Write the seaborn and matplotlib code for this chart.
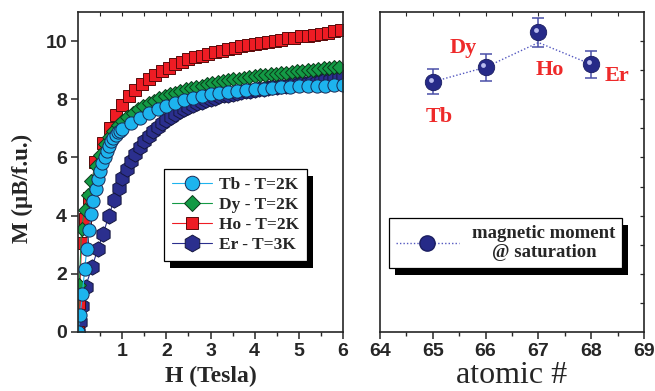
import numpy as np
import pandas as pd
import matplotlib
matplotlib.use("Agg")
import matplotlib.pyplot as plt
import seaborn as sns
from matplotlib.lines import Line2D
from matplotlib.patches import Rectangle
from matplotlib.transforms import ScaledTranslation

# ---------------- data ----------------
H_tb = [0.0, 0.05, 0.1, 0.15, 0.2, 0.25, 0.3, 0.35, 0.4, 0.45, 0.5, 0.55, 0.6, 0.65, 0.7,
        0.75, 0.8, 0.85, 0.9, 0.95, 1.0, 1.2, 1.4, 1.6, 1.8, 2.0, 2.2, 2.4, 2.6, 2.8, 3.0,
        3.2, 3.4, 3.6, 3.8, 4.0, 4.2, 4.4, 4.6, 4.8, 5.0, 5.2, 5.4, 5.6, 5.8, 6.0]
M_tb = [0.0, 0.6, 1.3, 2.15, 2.85, 3.5, 4.05, 4.5, 4.9, 5.25, 5.55, 5.8, 6.02, 6.22, 6.4,
        6.55, 6.68, 6.78, 6.86, 6.92, 6.97, 7.18, 7.37, 7.52, 7.66, 7.78, 7.88, 7.97, 8.05,
        8.12, 8.17, 8.22, 8.26, 8.3, 8.33, 8.35, 8.37, 8.39, 8.41, 8.43, 8.44, 8.45, 8.46,
        8.47, 8.48, 8.49]

H_dy = [0.0, 0.03, 0.08, 0.15, 0.22, 0.3, 0.4, 0.5, 0.6, 0.7, 0.8, 0.9, 1.0, 1.12, 1.24,
        1.36, 1.48, 1.6, 1.72, 1.84, 1.96, 2.08, 2.2, 2.32, 2.44, 2.56, 2.68, 2.8, 2.92,
        3.04, 3.16, 3.28, 3.4, 3.52, 3.64, 3.76, 3.88, 4.0, 4.12, 4.24, 4.36, 4.48, 4.6,
        4.72, 4.84, 4.96, 5.08, 5.2, 5.32, 5.44, 5.56, 5.68, 5.8, 5.92]
M_dy = [0.0, 1.6, 3.55, 4.2, 4.7, 5.2, 5.7, 6.1, 6.45, 6.7, 6.92, 7.1, 7.25, 7.4, 7.53,
        7.65, 7.76, 7.86, 7.95, 8.03, 8.1, 8.17, 8.23, 8.29, 8.34, 8.39, 8.43, 8.47, 8.51,
        8.55, 8.58, 8.62, 8.65, 8.68, 8.71, 8.74, 8.77, 8.79, 8.82, 8.84, 8.86, 8.88, 8.9,
        8.92, 8.94, 8.96, 8.98, 9.0, 9.02, 9.04, 9.06, 9.08, 9.1, 9.12]

H_ho = [0.0, 0.03, 0.08, 0.15, 0.25, 0.39, 0.57, 0.72, 0.85, 1.0, 1.15, 1.3, 1.45, 1.6,
        1.75, 1.9, 2.05, 2.2, 2.35, 2.5, 2.65, 2.8, 2.95, 3.1, 3.25, 3.4, 3.55, 3.7, 3.85,
        4.0, 4.15, 4.3, 4.45, 4.6, 4.75, 4.9, 5.05, 5.2, 5.35, 5.5, 5.65, 5.8, 5.95]
M_ho = [0.0, 1.0, 3.05, 3.9, 4.6, 5.85, 6.48, 7.0, 7.46, 7.8, 8.1, 8.33, 8.51, 8.68,
        8.84, 8.97, 9.09, 9.2, 9.29, 9.37, 9.44, 9.5, 9.56, 9.62, 9.67, 9.72, 9.77, 9.82,
        9.86, 9.9, 9.94, 9.98, 10.02, 10.05, 10.09, 10.12, 10.16, 10.19, 10.22, 10.26,
        10.29, 10.33, 10.37]

H_er = [0.0, 0.05, 0.1, 0.17, 0.32, 0.45, 0.57, 0.7, 0.82, 0.92, 1.0, 1.1, 1.2, 1.3,
        1.4, 1.5, 1.6, 1.7, 1.8, 1.9, 2.0, 2.1, 2.2, 2.3, 2.4, 2.5, 2.6, 2.7, 2.8, 2.9,
        3.0, 3.1, 3.2, 3.3, 3.4, 3.5, 3.6, 3.7, 3.8, 3.9, 4.0, 4.1, 4.2, 4.3, 4.4, 4.5,
        4.6, 4.7, 4.8, 4.9, 5.0, 5.1, 5.2, 5.3, 5.4, 5.5, 5.6, 5.7, 5.8, 5.9, 6.0]
M_er = [0.0, 0.35, 0.9, 1.55, 2.25, 2.85, 3.38, 4.0, 4.55, 4.95, 5.3, 5.6, 5.88, 6.13,
        6.35, 6.55, 6.74, 6.9, 7.05, 7.18, 7.3, 7.4, 7.5, 7.58, 7.66, 7.73, 7.8, 7.86,
        7.92, 7.97, 8.02, 8.06, 8.1, 8.13, 8.16, 8.19, 8.22, 8.25, 8.28, 8.3, 8.33, 8.35,
        8.37, 8.39, 8.41, 8.43, 8.45, 8.47, 8.49, 8.51, 8.53, 8.55, 8.57, 8.59, 8.61,
        8.63, 8.65, 8.67, 8.7, 8.73, 8.77]

series_labels = ["Tb - T=2K", "Dy - T=2K", "Ho - T=2K", "Er - T=3K"]

atomic_number = [65, 66, 67, 68]
moment = [8.6, 9.1, 10.3, 9.2]
moment_err = [0.43, 0.46, 0.5, 0.46]
trend = [8.6, 9.1, 9.95, 9.2]
element_names = ["Tb", "Dy", "Ho", "Er"]
name_x = [65.12, 65.58, 67.22, 68.48]
name_y = [7.4, 9.75, 9.0, 8.8]

# ---------------- style ----------------
sns.set_style("ticks")
plt.rcParams["font.family"] = ["Liberation Sans", "DejaVu Sans"]
plt.rcParams["axes.linewidth"] = 1.2
SERIF = ["Liberation Serif", "DejaVu Serif"]

fig = plt.figure(figsize=(6.55, 3.91), dpi=100)
ax1 = fig.add_axes([78 / 655, 59 / 391, 265 / 655, 320 / 391])
ax2 = fig.add_axes([380 / 655, 59 / 391, 264 / 655, 320 / 391])

c_tb, c_dy, c_ho, c_er = "#1DB4EE", "#139A45", "#EE1C24", "#2B2F8E"

common = dict(ax=ax1, sort=False, estimator=None, linewidth=0.8, markeredgewidth=0.7)
sns.lineplot(x=H_er, y=M_er, color=c_er, marker="h", markersize=11,
             markeredgecolor="#15173F", label=series_labels[3], **common)
sns.lineplot(x=H_ho, y=M_ho, color=c_ho, marker="s", markersize=8.5,
             markeredgecolor="#5A0A0A", label=series_labels[2], **common)
sns.lineplot(x=H_dy, y=M_dy, color=c_dy, marker="D", markersize=7.6,
             markeredgecolor="#0B3A1A", label=series_labels[1], **common)
sns.lineplot(x=H_tb, y=M_tb, color=c_tb, marker="o", markersize=9.5,
             markeredgecolor="#1A2A55", label=series_labels[0], **common)

ax1.set_xlim(0, 6)
ax1.set_ylim(0, 11)
ax1.set_xticks([1, 2, 3, 4, 5, 6])
ax1.set_xticks(np.arange(0.5, 6.0, 1.0), minor=True)
ax1.set_yticks([0, 2, 4, 6, 8, 10])
ax1.tick_params(axis="both", which="major", direction="out", length=5, width=1.1,
                labelsize=14, pad=3)
ax1.tick_params(axis="x", which="minor", direction="out", length=3, width=1.0)
ax1.tick_params(axis="x", which="both", top=False)
for lbl in ax1.get_xticklabels() + ax1.get_yticklabels():
    lbl.set_fontweight("bold")
sec = ax1.secondary_xaxis("top")
sec.set_xticks(np.arange(0.5, 6.0, 0.5))
sec.tick_params(direction="in", length=3, width=0.8, labeltop=False)
sec.spines["top"].set_visible(False)

ax1.set_xlabel("H (Tesla)", family=SERIF, fontweight="bold", fontsize=17)
ax1.xaxis.set_label_coords(0.5, -0.105)
ax1.xaxis.label.set_va("top")
ax1.set_ylabel("M (\u00b5B/f.u.)", family=SERIF, fontweight="bold", fontsize=16.5)
ax1.yaxis.set_label_coords(-0.208, 0.45)
ax1.yaxis.label.set_va("center")

h, l = ax1.get_legend_handles_labels()
order = [l.index(s) for s in series_labels]
leg1 = ax1.legend([h[i] for i in order], [l[i] for i in order],
                  loc="upper left", bbox_to_anchor=(0.325, 0.509), borderaxespad=0,
                  frameon=True, fancybox=False, framealpha=1, edgecolor="black",
                  prop={"family": SERIF, "weight": "bold", "size": 12.5},
                  handlelength=2.3, handletextpad=0.4, labelspacing=0.22, markerscale=1.1,
                  borderpad=0.45)
leg1.get_frame().set_linewidth(0.9)
leg1.set_zorder(6)

# ---------------- right panel ----------------
sns.lineplot(x=atomic_number, y=trend, ax=ax2, sort=False, estimator=None,
             color="#5458C0", linestyle=(0, (1, 1.5)), linewidth=1.0, legend=False)
ax2.errorbar(atomic_number, moment, yerr=moment_err, fmt="none", ecolor="#4A4FA8",
             elinewidth=1.1, capsize=4, capthick=1.1, zorder=3)
sns.scatterplot(x=atomic_number, y=moment, ax=ax2, color="#262A88", s=140,
                edgecolor="#1A1D60", linewidth=0.6, zorder=4, legend=False)
hl = ax2.transData + ScaledTranslation(-1.6 / 72, 1.6 / 72, fig.dpi_scale_trans)
sns.scatterplot(x=atomic_number, y=moment, ax=ax2, color="#B8BBEE", s=12,
                linewidth=0, zorder=5, legend=False, transform=hl)

for name, xx, yy in zip(element_names, name_x, name_y):
    ax2.text(xx, yy, name, color="#EE2A2A", fontsize=16, fontweight="bold",
             family=SERIF, ha="center", va="center")

ax2.set_xlim(64, 69)
ax2.set_ylim(0, 11)
ax2.set_xticks([64, 65, 66, 67, 68, 69])
ax2.set_xticks(np.arange(64.5, 69, 1.0), minor=True)
ax2.tick_params(axis="x", which="major", direction="out", length=5, width=1.1,
                labelsize=14, pad=3)
ax2.tick_params(axis="x", which="minor", direction="out", length=3, width=1.0)
ax2.set_yticks(np.arange(1, 11, 1))
ax2.tick_params(axis="y", which="both", left=False, labelleft=False, right=True,
                direction="in", length=3, width=0.9)
for lbl in ax2.get_xticklabels():
    lbl.set_fontweight("bold")
sec2 = ax2.secondary_xaxis("top")
sec2.set_xticks(np.arange(64.5, 69, 0.5))
sec2.tick_params(direction="in", length=3, width=0.8, labeltop=False)
sec2.spines["top"].set_visible(False)

ax2.set_xlabel("atomic #", family=SERIF, fontsize=23)
ax2.xaxis.set_label_coords(0.5, (1 - 59) / 320)
ax2.xaxis.label.set_va("bottom")

leg_handle = Line2D([], [], color="#5458C0", linestyle=(0, (1, 1.5)), linewidth=1.0,
                    marker="o", markersize=11, markerfacecolor="#262A88",
                    markeredgecolor="#1A1D60")
leg2 = ax2.legend([leg_handle], ["magnetic moment\n@ saturation"], loc="upper left",
                  bbox_to_anchor=(0.034, 0.356), borderaxespad=0, frameon=True,
                  fancybox=False, framealpha=1, edgecolor="black",
                  prop={"family": SERIF, "weight": "bold", "size": 13.5},
                  handlelength=3.4, handletextpad=0.7, borderpad=0.35, labelspacing=0.2)
leg2.get_frame().set_linewidth(0.9)
for t in leg2.get_texts():
    t.set_multialignment("center")
leg2.set_zorder(6)

# legend drop shadows
fig.canvas.draw()
for ax, leg in ((ax1, leg1), (ax2, leg2)):
    bb = leg.get_frame().get_window_extent()
    inv = ax.transAxes.inverted()
    (x0, y0), (x1, y1) = inv.transform([(bb.x0 + 6, bb.y0 - 7), (bb.x1 + 6, bb.y1 - 7)])
    ax.add_patch(Rectangle((x0, y0), x1 - x0, y1 - y0, transform=ax.transAxes,
                           facecolor="black", edgecolor="none", zorder=5.5, clip_on=False))

fig.savefig("out.png", dpi=100)
